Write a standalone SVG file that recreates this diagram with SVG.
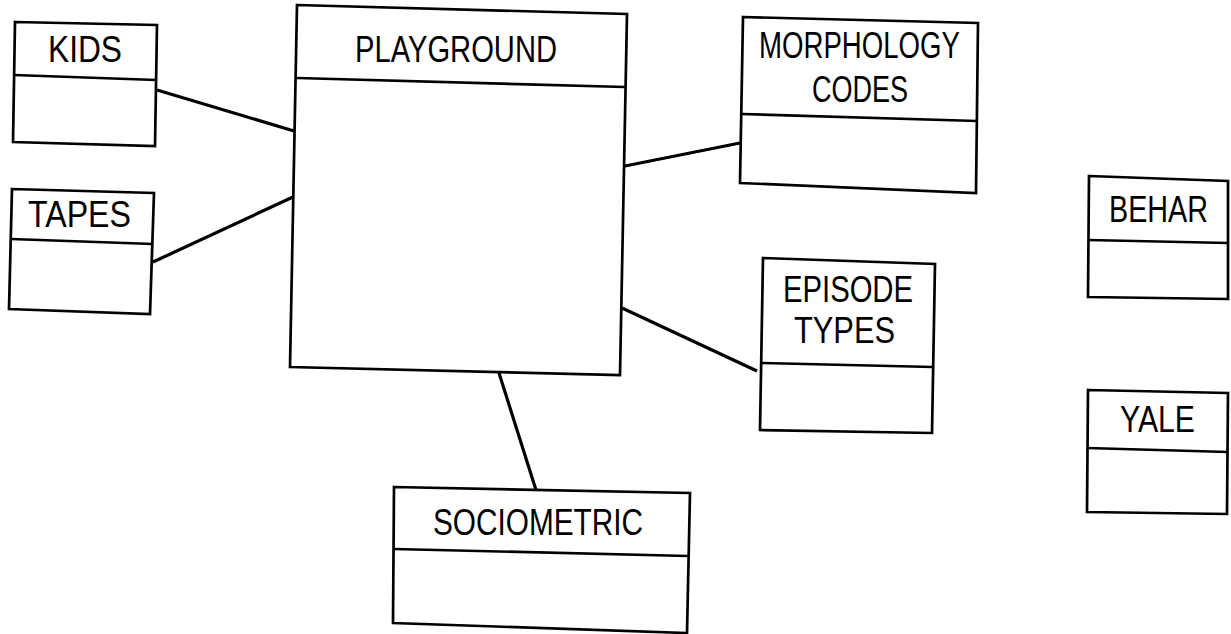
<svg xmlns="http://www.w3.org/2000/svg" width="1231" height="634" viewBox="0 0 1231 634">
<style>
.box{fill:none;stroke:#000;stroke-width:2.7;stroke-linejoin:miter}
.div{stroke:#000;stroke-width:2.7}
.lbl{font-family:"Liberation Sans",Arial,sans-serif;font-size:36px;fill:#000}
.conn line{stroke:#000;stroke-width:3.2;stroke-linecap:butt}
</style>
<rect width="1231" height="634" fill="#fff"/>
<g id="connectors" class="conn">
<line x1="157" y1="90" x2="294" y2="131"/>
<line x1="153" y1="262" x2="293" y2="197"/>
<line x1="625" y1="166" x2="740" y2="143"/>
<line x1="622" y1="308" x2="757" y2="371"/>
<line x1="499" y1="373" x2="536" y2="490"/>
</g>
<g id="kids">
<polygon class="box" points="15,22 157,25 155,146 13,142"/>
<line class="div" x1="14" y1="75" x2="156" y2="80"/>
<text class="lbl" x="48" y="62" textLength="74" lengthAdjust="spacingAndGlyphs">KIDS</text>
</g>
<g id="tapes">
<polygon class="box" points="12,189 154,193 150,314 9,309"/>
<line class="div" x1="11" y1="239" x2="153" y2="244"/>
<text class="lbl" x="28" y="227" textLength="103" lengthAdjust="spacingAndGlyphs">TAPES</text>
</g>
<g id="playground">
<polygon class="box" points="297,5 627,14 620,375 290,367"/>
<line class="div" x1="297" y1="78" x2="625" y2="87"/>
<text class="lbl" x="355" y="62" textLength="202" lengthAdjust="spacingAndGlyphs">PLAYGROUND</text>
</g>
<g id="morphology-codes">
<polygon class="box" points="743,17 978,23 976,193 740,183"/>
<line class="div" x1="742" y1="114" x2="977" y2="121"/>
<text class="lbl" x="759" y="58" textLength="201" lengthAdjust="spacingAndGlyphs">MORPHOLOGY</text>
<text class="lbl" x="812" y="102" textLength="96" lengthAdjust="spacingAndGlyphs">CODES</text>
</g>
<g id="episode-types">
<polygon class="box" points="763,258 935,264 932,433 760,430"/>
<line class="div" x1="762" y1="363" x2="933" y2="367"/>
<text class="lbl" x="783" y="302" textLength="130" lengthAdjust="spacingAndGlyphs">EPISODE</text>
<text class="lbl" x="794" y="343" textLength="101" lengthAdjust="spacingAndGlyphs">TYPES</text>
</g>
<g id="sociometric">
<polygon class="box" points="394,487 690,493 687,633 393,623"/>
<line class="div" x1="394" y1="549" x2="688" y2="556"/>
<text class="lbl" x="433" y="535" textLength="210" lengthAdjust="spacingAndGlyphs">SOCIOMETRIC</text>
</g>
<g id="behar">
<polygon class="box" points="1089,176 1228,181 1228,299 1088,297"/>
<line class="div" x1="1088" y1="240" x2="1228" y2="243"/>
<text class="lbl" x="1109" y="222" textLength="99" lengthAdjust="spacingAndGlyphs">BEHAR</text>
</g>
<g id="yale">
<polygon class="box" points="1088,390 1228,393 1227,514 1087,512"/>
<line class="div" x1="1087" y1="448" x2="1228" y2="452"/>
<text class="lbl" x="1120" y="432" textLength="75" lengthAdjust="spacingAndGlyphs">YALE</text>
</g>
</svg>
